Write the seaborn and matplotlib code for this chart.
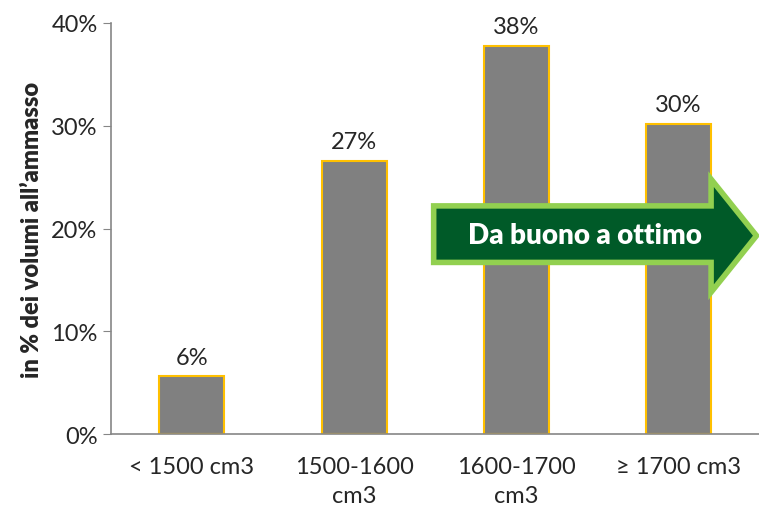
import matplotlib
matplotlib.use('Agg')
import matplotlib.pyplot as plt
from matplotlib.patches import Polygon
from matplotlib.ticker import PercentFormatter, FixedLocator
import seaborn as sns
import pandas as pd

categories = ['< 1500 cm3', '1500-1600\ncm3', '1600-1700\ncm3', '≥ 1700 cm3']
values = [5.6, 26.6, 37.8, 30.2]
labels = ['6%', '27%', '38%', '30%']

sns.set_style('white')
plt.rcParams['font.family'] = ['Lato', 'DejaVu Sans']

df = pd.DataFrame({'cat': categories, 'val': values})

fig = plt.figure(figsize=(7.59, 5.10), dpi=100)
ax = fig.add_axes([0.146, 0.147, 0.855, 0.806])

sns.barplot(data=df, x='cat', y='val', color='#808080', saturation=1,
            edgecolor='#FFC000', linewidth=1.5, width=0.4, ax=ax)

for i, (v, lab) in enumerate(zip(values, labels)):
    ax.annotate(lab, (i, v), xytext=(0, 6), textcoords='offset points',
                ha='center', va='bottom', fontsize=17)

ax.set_xlim(-0.5, 3.5)
ax.set_ylim(0, 40)
ax.set_yticks([0, 10, 20, 30, 40])
ax.yaxis.set_major_formatter(PercentFormatter(decimals=0))
ax.xaxis.set_minor_locator(FixedLocator([-0.5, 0.5, 1.5, 2.5, 3.5]))
ax.tick_params(axis='x', which='major', length=0, labelsize=17, pad=16)
ax.tick_params(axis='x', which='minor', length=6, color='#868686', direction='out')
ax.tick_params(axis='y', length=6, color='#868686', direction='out', labelsize=17, left=True)
for t in ax.get_xticklabels():
    t.set_linespacing(1.45)
ax.set_xlabel('')
ax.set_ylabel('in % dei volumi all\u2019ammasso', fontsize=17, fontweight='heavy', labelpad=6)

for s in ['top', 'right']:
    ax.spines[s].set_visible(False)
for s in ['left', 'bottom']:
    ax.spines[s].set_color('#868686')
    ax.spines[s].set_linewidth(1.2)

# green arrow
arrow = Polygon([(1.49, 16.7), (3.20, 16.7), (3.20, 13.8), (3.48, 19.3),
                 (3.20, 24.8), (3.20, 22.2), (1.49, 22.2)],
                closed=True, facecolor='#005A28', edgecolor='#92D050',
                linewidth=4, joinstyle='miter', clip_on=False, zorder=5)
ax.add_patch(arrow)
ax.text(2.42, 19.4, 'Da buono a ottimo', color='white', fontsize=20,
        fontweight='heavy', ha='center', va='center', zorder=6)

fig.savefig('out.png', dpi=100)
